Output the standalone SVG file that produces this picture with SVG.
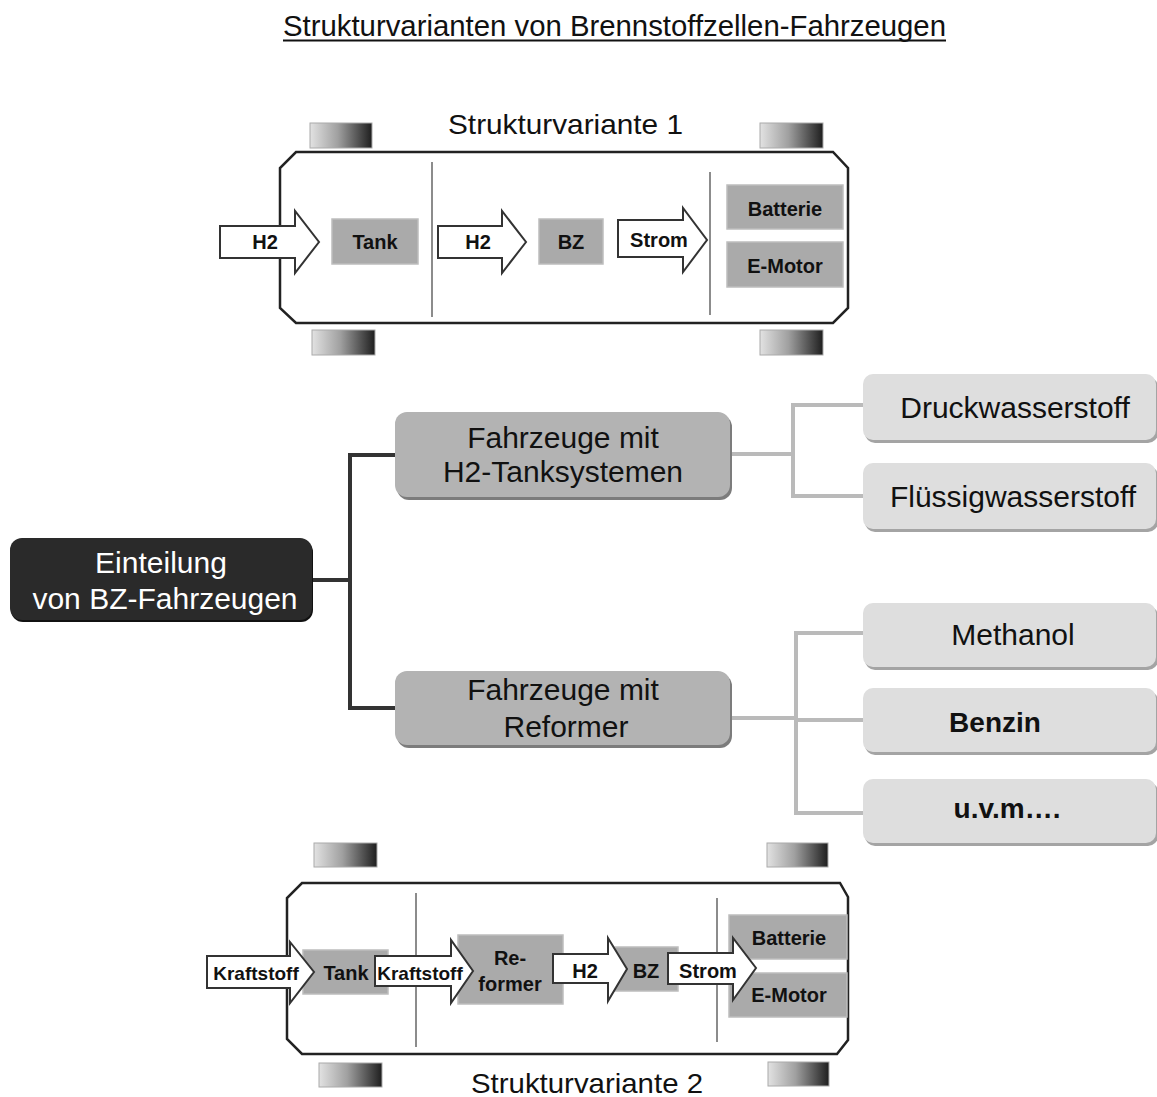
<svg xmlns="http://www.w3.org/2000/svg" width="1157" height="1097" viewBox="0 0 1157 1097">
<defs>
<linearGradient id="wheel" x1="0" y1="0" x2="1" y2="0">
<stop offset="0" stop-color="#e2e2e2"/>
<stop offset="0.45" stop-color="#a0a0a0"/>
<stop offset="1" stop-color="#1e1e1e"/>
</linearGradient>
<style>
.body{fill:#fff;stroke:#222;stroke-width:2.5}
.div{stroke:#666;stroke-width:1.5}
.wheel{fill:url(#wheel);stroke:#aaa;stroke-width:1}
.box{fill:#aaa;stroke:#bdbdbd;stroke-width:1.5}
.arr{fill:#fff;stroke:#333;stroke-width:2}
.ct{font-family:"Liberation Sans",Arial,sans-serif;font-weight:bold;font-size:20px;fill:#111;text-anchor:middle}
.ct2{font-family:"Liberation Sans",Arial,sans-serif;font-weight:bold;font-size:19px;fill:#111;text-anchor:middle}
.cap{font-family:"Liberation Sans",Arial,sans-serif;font-size:28px;fill:#111}
.mm{font-family:"Liberation Sans",Arial,sans-serif;font-size:30px;fill:#111;text-anchor:middle}
.mmw{font-family:"Liberation Sans",Arial,sans-serif;font-size:30px;fill:#fff;text-anchor:middle}
.mmb{font-family:"Liberation Sans",Arial,sans-serif;font-size:28px;font-weight:bold;fill:#111;text-anchor:middle}
.leaf{fill:#dedede}
.leafsh{fill:#a4a4a4}
.mid{fill:#b3b3b3}
.midsh{fill:#7c7c7c}
.dark{fill:none;stroke:#333;stroke-width:4}
.light{fill:none;stroke:#bababa;stroke-width:4}
</style>
</defs>
<rect width="1157" height="1097" fill="#fff"/>

<g id="title">
<text x="283" y="36" font-family="Liberation Sans, Arial, sans-serif" font-size="29" fill="#111" textLength="663" lengthAdjust="spacingAndGlyphs">Strukturvarianten von Brennstoffzellen-Fahrzeugen</text>
<line x1="283" y1="40.5" x2="946" y2="40.5" stroke="#111" stroke-width="2"/>
</g>

<g id="variante1">
<text class="cap" x="448" y="134" textLength="235" lengthAdjust="spacingAndGlyphs">Strukturvariante 1</text>
<rect class="wheel" x="310" y="123" width="62" height="25"/>
<rect class="wheel" x="760" y="123" width="63" height="25"/>
<rect class="wheel" x="312" y="330" width="63" height="25"/>
<rect class="wheel" x="760" y="330" width="63" height="25"/>
<path class="body" d="M296,152 H833 L848,168 V308 L833,323 H296 L280,308 V168 Z"/>
<line class="div" x1="432" y1="162" x2="432" y2="317"/>
<line class="div" x1="710" y1="172" x2="710" y2="315"/>
<g id="v1-tank"><rect class="box" x="332" y="219" width="86" height="45"/><text class="ct" x="375" y="249">Tank</text></g>
<g id="v1-bz"><rect class="box" x="539" y="219" width="64" height="45"/><text class="ct" x="571" y="249">BZ</text></g>
<g id="v1-batterie"><rect class="box" x="727" y="185" width="116" height="44"/><text class="ct" x="785" y="216">Batterie</text></g>
<g id="v1-emotor"><rect class="box" x="727" y="242" width="116" height="45"/><text class="ct" x="785" y="273">E-Motor</text></g>
<g id="v1-arrows">
<path class="arr" d="M220,226 H295 V211 L319,242 L295,273 V258 H220 Z"/>
<text class="ct" x="265" y="249">H2</text>
<path class="arr" d="M438,226 H502 V211 L526,242 L502,273 V258 H438 Z"/>
<text class="ct" x="478" y="249">H2</text>
<path class="arr" d="M618,220 H683 V208 L707,240 L683,272 V257 H618 Z"/>
<text class="ct" x="659" y="247">Strom</text>
</g>
</g>

<g id="connectors">
<path class="dark" d="M312,580 H350 M350,455 V708 M348,455 H395 M348,708 H395"/>
<path class="light" d="M730,454 H793 M793,405 V496 M791,405 H863 M791,496 H863"/>
<path class="light" d="M730,718 H796 M796,633 V813 M794,633 H863 M794,720 H863 M794,813 H863"/>
</g>

<g id="root">
<rect x="11" y="540" width="302" height="82" rx="12" fill="#111"/>
<rect x="10" y="538" width="302" height="82" rx="12" fill="#2a2a2a"/>
<text class="mmw" x="161" y="573">Einteilung</text>
<text class="mmw" x="165" y="609">von BZ-Fahrzeugen</text>
</g>

<g id="h2tank">
<rect class="midsh" x="397" y="415" width="335" height="85" rx="12"/>
<rect class="mid" x="395" y="412" width="335" height="85" rx="12"/>
<text class="mm" x="563" y="448">Fahrzeuge mit</text>
<text class="mm" x="563" y="482">H2-Tanksystemen</text>
</g>

<g id="reformer">
<rect class="midsh" x="397" y="674" width="335" height="74" rx="12"/>
<rect class="mid" x="395" y="671" width="335" height="74" rx="12"/>
<text class="mm" x="563" y="700">Fahrzeuge mit</text>
<text class="mm" x="566" y="737">Reformer</text>
</g>

<g id="druck">
<rect class="leafsh" x="865" y="377" width="293" height="66" rx="10"/>
<rect class="leaf" x="863" y="374" width="293" height="66" rx="10"/>
<text class="mm" x="1015" y="418">Druckwasserstoff</text>
</g>
<g id="fluessig">
<rect class="leafsh" x="865" y="466" width="293" height="66" rx="10"/>
<rect class="leaf" x="863" y="463" width="293" height="66" rx="10"/>
<text class="mm" x="1013" y="507">Flüssigwasserstoff</text>
</g>
<g id="methanol">
<rect class="leafsh" x="865" y="606" width="293" height="64" rx="10"/>
<rect class="leaf" x="863" y="603" width="293" height="64" rx="10"/>
<text class="mm" x="1013" y="645">Methanol</text>
</g>
<g id="benzin">
<rect class="leafsh" x="865" y="691" width="293" height="64" rx="10"/>
<rect class="leaf" x="863" y="688" width="293" height="64" rx="10"/>
<text class="mmb" x="995" y="732">Benzin</text>
</g>
<g id="uvm">
<rect class="leafsh" x="865" y="782" width="293" height="64" rx="10"/>
<rect class="leaf" x="863" y="779" width="293" height="64" rx="10"/>
<text class="mmb" x="1007" y="818">u.v.m….</text>
</g>

<g id="variante2">
<rect class="wheel" x="314" y="843" width="63" height="24"/>
<rect class="wheel" x="767" y="843" width="61" height="24"/>
<rect class="wheel" x="319" y="1063" width="63" height="24"/>
<rect class="wheel" x="768" y="1062" width="61" height="24"/>
<path class="body" d="M302,883 H840 L848,897 V1040 L837,1054 H302 L287,1039 V898 Z"/>
<line class="div" x1="416" y1="893" x2="416" y2="1047"/>
<line class="div" x1="717" y1="898" x2="717" y2="1042"/>
<g id="v2-tank"><rect class="box" x="303" y="950" width="85" height="44"/></g>
<g id="v2-reformer"><rect class="box" x="458" y="935" width="105" height="69"/><text class="ct" x="510" y="965">Re-</text><text class="ct" x="510" y="991">former</text></g>
<g id="v2-bz"><rect class="box" x="615" y="947" width="63" height="44"/></g>
<g id="v2-batterie"><rect class="box" x="729" y="915" width="118" height="44"/><text class="ct" x="789" y="945">Batterie</text></g>
<g id="v2-emotor"><rect class="box" x="729" y="973" width="118" height="44"/><text class="ct" x="789" y="1002">E-Motor</text></g>
<g id="v2-arrows">
<path class="arr" d="M207,956 H290 V942 L314,972 L290,1003 V988 H207 Z"/>
<text class="ct2" x="256" y="980">Kraftstoff</text>
<text class="ct" x="346" y="980">Tank</text>
<path class="arr" d="M375,956 H451 V940 L473,971 L451,1003 V986 H375 Z"/>
<text class="ct2" x="420" y="980">Kraftstoff</text>
<path class="arr" d="M553,954 H608 V938 L627,969 L608,1001 V983 H553 Z"/>
<text class="ct" x="585" y="978">H2</text>
<text class="ct" x="646" y="978">BZ</text>
<path class="arr" d="M668,953 H733 V938 L756,968 L733,1000 V984 H668 Z"/>
<text class="ct" x="708" y="978">Strom</text>
</g>
<text class="cap" x="471" y="1093" textLength="232" lengthAdjust="spacingAndGlyphs">Strukturvariante 2</text>
</g>
</svg>
